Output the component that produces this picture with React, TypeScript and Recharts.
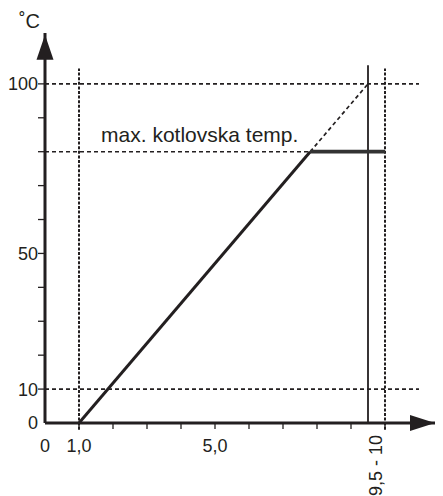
import React from "react";
import { LineChart, Line, XAxis, YAxis, ReferenceLine, ReferenceDot } from "recharts";

const INK = "#231f20";
const FONT = "'Liberation Sans', Arial, Helvetica, sans-serif";

// Heating curve: input signal (V) -> boiler temperature (°C)
const curveX = [1.0, 7.8];
const curveY = [0, 80];
const plateauX = [7.8, 10];
const plateauY = [80, 80];
const extensionX = [7.8, 9.5];
const extensionY = [80, 100];

// axis extents
const xMax = 11.5;
const yMax = 115;
const yArrowTip = 114.5;

// tick values and labels
const xTicks = [0, 1, 2, 3, 4, 5, 6, 7, 8, 9, 10];
const xTickLabels: Record<number, string> = { 0: "0", 1: "1,0", 5: "5,0" };
const xRotatedTick = 10;
const xRotatedLabel = "9,5 - 10";
const yTicks = [0, 10, 20, 30, 40, 50, 60, 70, 80, 90, 100];
const yTickLabels: Record<number, string> = { 0: "0", 10: "10", 50: "50", 100: "100" };

// guide lines
const hGuideY = [100, 80, 10];
const hGuideEnd = [11, 7.8, 11];
const vDashedX = [1, 10];
const vDashedBottom = -2;
const vDashedTop = 104.5;
const vSolidX = 9.5;
const vSolidTop = 105.5;

// texts
const yUnit = "˚C";
const xUnit = "V";
const maxTempLabel = "max. kotlovska temp.";
const maxTempLabelX = 1.65;
const maxTempLabelY = 80;

const toRows = (xs: number[], ys: number[]) => xs.map((x, i) => ({ x, y: ys[i] }));
const curveData = toRows(curveX, curveY);
const plateauData = toRows(plateauX, plateauY);
const extensionData = toRows(extensionX, extensionY);

const XTick = (p: any) => {
  const { x, y, payload } = p;
  const v = payload.value;
  return (
    <g>
      {v !== 0 && <line x1={x} y1={y} x2={x} y2={y + 6} stroke={INK} strokeWidth={1.3} />}
      {xTickLabels[v] !== undefined && (
        <text x={x} y={y + 29} textAnchor="middle" fontFamily={FONT} fontSize={18} fill={INK}>
          {xTickLabels[v]}
        </text>
      )}
      {v === xRotatedTick && (
        <text
          transform={`translate(${x - 3.5},${y + 12}) rotate(-90)`}
          textAnchor="end"
          fontFamily={FONT}
          fontSize={18}
          fill={INK}
        >
          {xRotatedLabel}
        </text>
      )}
    </g>
  );
};

const YTick = (p: any) => {
  const { x, y, payload } = p;
  const v = payload.value;
  return (
    <g>
      {v !== 0 && <line x1={x - 7} y1={y} x2={x} y2={y} stroke={INK} strokeWidth={1.3} />}
      {yTickLabels[v] !== undefined && (
        <text x={x - 7} y={y} dy="0.36em" textAnchor="end" fontFamily={FONT} fontSize={18} fill={INK}>
          {yTickLabels[v]}
        </text>
      )}
    </g>
  );
};

const YArrow = (p: any) => {
  const { cx, cy } = p;
  return (
    <g>
      <polygon points={`${cx},${cy} ${cx - 8.5},${cy + 25} ${cx + 8.5},${cy + 25}`} fill={INK} />
      <text x={cx - 5} y={cy - 7} textAnchor="end" fontFamily={FONT} fontSize={20} fill={INK}>
        {yUnit}
      </text>
    </g>
  );
};

const XArrow = (p: any) => {
  const { cx, cy } = p;
  return (
    <g>
      <polygon points={`${cx - 1},${cy} ${cx - 26},${cy - 8} ${cx - 26},${cy + 8}`} fill={INK} />
      <text x={cx + 3} y={cy + 18} fontFamily={FONT} fontSize={18} fill={INK}>
        {xUnit}
      </text>
    </g>
  );
};

const MaxLabel = (p: any) => {
  const { cx, cy } = p;
  return (
    <text x={cx} y={cy - 10} fontFamily={FONT} fontSize={21} fill={INK}>
      {maxTempLabel}
    </text>
  );
};

export default function App() {
  return (
    <LineChart
      width={435}
      height={488}
      data={curveData}
      margin={{ top: 25, right: 7, bottom: 0, left: 0 }}
    >
      <XAxis
        type="number"
        dataKey="x"
        domain={[0, xMax]}
        ticks={xTicks}
        interval={0}
        height={73}
        tickSize={0}
        tickMargin={0}
        tickLine={false}
        axisLine={{ stroke: INK, strokeWidth: 3 }}
        tick={<XTick />}
        allowDataOverflow
      />
      <YAxis
        type="number"
        dataKey="y"
        domain={[0, yMax]}
        ticks={yTicks}
        interval={0}
        width={37}
        tickSize={0}
        tickMargin={0}
        tickLine={false}
        axisLine={{ stroke: INK, strokeWidth: 3 }}
        tick={<YTick />}
        allowDataOverflow
      />
      {hGuideY.map((gy, i) => (
        <ReferenceLine
          key={`h${gy}`}
          segment={[
            { x: 0, y: gy },
            { x: hGuideEnd[i], y: gy },
          ]}
          stroke={INK}
          strokeWidth={1.6}
          strokeDasharray="4 3"
          ifOverflow="visible"
        />
      ))}
      {vDashedX.map((gx) => (
        <ReferenceLine
          key={`v${gx}`}
          segment={[
            { x: gx, y: vDashedBottom },
            { x: gx, y: vDashedTop },
          ]}
          stroke={INK}
          strokeWidth={2}
          strokeDasharray="3 1.6"
          ifOverflow="visible"
        />
      ))}
      <ReferenceLine
        segment={[
          { x: vSolidX, y: 0 },
          { x: vSolidX, y: vSolidTop },
        ]}
        stroke={INK}
        strokeWidth={1.8}
        ifOverflow="visible"
      />
      <Line
        data={extensionData}
        dataKey="y"
        stroke={INK}
        strokeWidth={1.7}
        strokeDasharray="4 3"
        dot={false}
        isAnimationActive={false}
      />
      <Line
        data={curveData}
        dataKey="y"
        stroke={INK}
        strokeWidth={3}
        dot={false}
        isAnimationActive={false}
      />
      <Line
        data={plateauData}
        dataKey="y"
        stroke="#333"
        strokeWidth={3.8}
        dot={false}
        isAnimationActive={false}
      />
      <ReferenceDot x={0} y={yArrowTip} r={0} shape={<YArrow />} ifOverflow="visible" />
      <ReferenceDot x={xMax} y={0} r={0} shape={<XArrow />} ifOverflow="visible" />
      <ReferenceDot x={maxTempLabelX} y={maxTempLabelY} r={0} shape={<MaxLabel />} ifOverflow="visible" />
    </LineChart>
  );
}
